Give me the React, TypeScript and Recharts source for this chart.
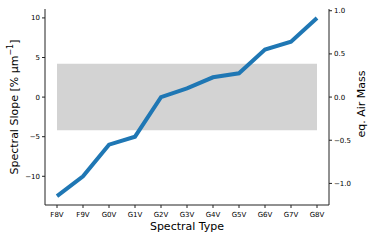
import React from 'react';
import {
  LineChart,
  Line,
  XAxis,
  YAxis,
  ReferenceArea,
} from 'recharts';

const spectralTypes = ['F8V', 'F9V', 'G0V', 'G1V', 'G2V', 'G3V', 'G4V', 'G5V', 'G6V', 'G7V', 'G8V'];
const slopeValues = [-12.5, -10, -6, -5, 0, 1.1, 2.5, 3, 6, 7, 10];
const slopeTicks = [-10, -5, 0, 5, 10];
const airMassTicks = [-1, -0.5, 0, 0.5, 1];
const bandLimits = [-4.2, 4.2];

const data = spectralTypes.map((type, i) => ({ type, slope: slopeValues[i] }));

const font = 'DejaVu Sans, sans-serif';
const axisColor = '#222';

const fmtMinus = (v: number, digits: number) => {
  const s = Math.abs(v).toFixed(digits);
  return v < 0 ? `\u2212${s}` : s;
};

const LeftLabel = ({ viewBox }: any) => {
  const cx = 14;
  const cy = viewBox.y + viewBox.height / 2;
  return (
    <text
      x={cx}
      y={cy}
      transform={`rotate(-90, ${cx}, ${cy})`}
      textAnchor="middle"
      dominantBaseline="central"
      fontSize={11}
      fontFamily={font}
      fill="#000"
    >
      Spectral Slope [% μm
      <tspan dy={-4} fontSize={8}>−1</tspan>
      <tspan dy={4}>]</tspan>
    </text>
  );
};

const RightLabel = ({ viewBox }: any) => {
  const cx = 361;
  const cy = viewBox.y + viewBox.height / 2 - 3;
  return (
    <text
      x={cx}
      y={cy}
      transform={`rotate(-90, ${cx}, ${cy})`}
      textAnchor="middle"
      dominantBaseline="central"
      fontSize={11}
      fontFamily={font}
      fill="#000"
    >
      eq. Air Mass
    </text>
  );
};

const App: React.FC = () => {
  return (
    <div style={{ position: 'absolute', left: 0, top: 0, background: '#fff' }}>
      <LineChart
        width={374}
        height={240}
        data={data}
        margin={{ top: 9, right: 0, left: 0, bottom: 0 }}
      >
        <XAxis
          dataKey="type"
          height={35}
          padding={{ left: 12, right: 12 }}
          interval={0}
          tick={{ fill: '#000', fontSize: 7, fontFamily: font }}
          tickSize={3}
          tickMargin={4}
          axisLine={{ stroke: axisColor }}
          tickLine={{ stroke: axisColor }}
          label={{
            value: 'Spectral Type',
            position: 'insideBottom',
            offset: 10,
            fontSize: 11,
            fontFamily: font,
            fill: '#000',
          }}
        />
        <XAxis
          xAxisId="top"
          orientation="top"
          dataKey="type"
          height={0}
          tick={false}
          tickLine={false}
          axisLine={{ stroke: axisColor }}
        />
        <YAxis
          yAxisId="slope"
          orientation="left"
          width={45}
          type="number"
          domain={[-13.625, 11.125]}
          ticks={slopeTicks}
          tickFormatter={(v: number) => fmtMinus(v, 0)}
          tick={{ fill: '#000', fontSize: 7, fontFamily: font }}
          tickSize={3}
          axisLine={{ stroke: axisColor }}
          tickLine={{ stroke: axisColor }}
          label={<LeftLabel />}
        />
        <YAxis
          yAxisId="air"
          orientation="right"
          width={45}
          type="number"
          domain={[-1.25, 1.02]}
          allowDataOverflow
          ticks={airMassTicks}
          tickFormatter={(v: number) => fmtMinus(v, 1)}
          tick={{ fill: '#000', fontSize: 7, fontFamily: font }}
          tickSize={3}
          axisLine={{ stroke: axisColor }}
          tickLine={{ stroke: axisColor }}
          label={<RightLabel />}
        />
        <ReferenceArea
          yAxisId="slope"
          x1={spectralTypes[0]}
          x2={spectralTypes[spectralTypes.length - 1]}
          y1={bandLimits[0]}
          y2={bandLimits[1]}
          fill="#d3d3d3"
          fillOpacity={1}
          stroke="none"
        />
        <Line
          yAxisId="slope"
          dataKey="slope"
          type="linear"
          stroke="#1f77b4"
          strokeWidth={4}
          dot={false}
          isAnimationActive={false}
        />
      </LineChart>
    </div>
  );
};

export default App;
